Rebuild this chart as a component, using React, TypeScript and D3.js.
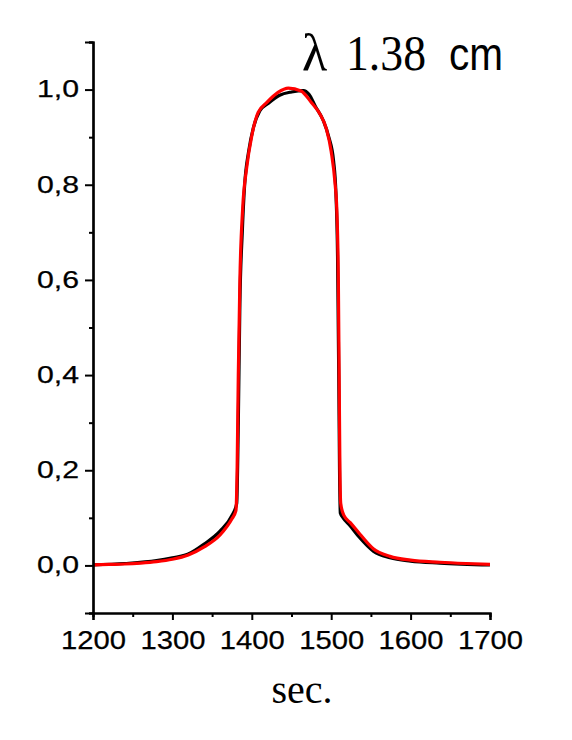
import { useEffect, useRef } from 'react';
import * as d3 from 'd3';

// time (sec.) and normalised signal
const blackT = [1200, 1240, 1280, 1300, 1320, 1340, 1360, 1375, 1381, 1383, 1385, 1388, 1391, 1396, 1402, 1410, 1420, 1435, 1450, 1465, 1472, 1480, 1490, 1497, 1503, 1506, 1508, 1509.5, 1510.5, 1511.5, 1515, 1524, 1536, 1553, 1574, 1600, 1637, 1700];
const blackV = [0.001, 0.004, 0.01, 0.016, 0.024, 0.045, 0.072, 0.105, 0.13, 0.3, 0.55, 0.7, 0.8, 0.87, 0.92, 0.955, 0.97, 0.988, 0.995, 0.998, 0.99, 0.965, 0.935, 0.9, 0.85, 0.78, 0.65, 0.4, 0.2, 0.11, 0.1, 0.083, 0.058, 0.03, 0.016, 0.009, 0.005, 0.001];

const redT = [1200, 1220, 1240, 1260, 1280, 1300, 1320, 1340, 1360, 1375, 1380, 1381.5, 1383, 1385, 1388.5, 1393.5, 1400, 1408, 1419, 1433, 1446, 1462, 1475, 1486, 1494, 1500, 1505, 1507, 1509, 1510, 1511, 1512, 1516, 1524, 1536, 1553, 1574, 1600, 1637, 1670, 1700];
const redV = [0.001, 0.002, 0.003, 0.005, 0.008, 0.013, 0.022, 0.039, 0.064, 0.098, 0.115, 0.2, 0.4, 0.6, 0.75, 0.835, 0.903, 0.952, 0.973, 0.994, 1.003, 0.997, 0.973, 0.948, 0.917, 0.87, 0.8, 0.75, 0.6, 0.4, 0.2, 0.13, 0.105, 0.09, 0.066, 0.035, 0.019, 0.011, 0.0067, 0.004, 0.002];

const xMajor = [1200, 1300, 1400, 1500, 1600, 1700];
const xMinor = [1250, 1350, 1450, 1550, 1650];
const yMajor = [0, 0.2, 0.4, 0.6, 0.8, 1.0];
const yMinor = [-0.1, 0.1, 0.3, 0.5, 0.7, 0.9, 1.1];

const W = 572;
const H = 740;

export default function App() {
  const svgRef = useRef<SVGSVGElement>(null);

  useEffect(() => {
    if (!svgRef.current) return;
    const svg = d3.select(svgRef.current);
    svg.selectAll('*').remove();

    const left = 93;
    const right = 490;
    const top = 42;
    const bottom = 613;

    const x = d3.scaleLinear().domain([1200, 1700]).range([left, right]);
    const y = d3.scaleLinear().domain([-0.1, 1.1]).range([bottom, top]);

    const line = d3
      .line<[number, number]>()
      .x((d) => x(d[0]))
      .y((d) => y(d[1]))
      .curve(d3.curveMonotoneX);

    const black = blackT.map((t, i) => [t, blackV[i]] as [number, number]);
    const red = redT.map((t, i) => [t, redV[i]] as [number, number]);

    svg
      .append('path')
      .attr('d', line(black))
      .attr('fill', 'none')
      .attr('stroke', '#000')
      .attr('stroke-width', 3.2);

    svg
      .append('path')
      .attr('d', line(red))
      .attr('fill', 'none')
      .attr('stroke', '#ff0000')
      .attr('stroke-width', 3.2);

    // axes
    const fmt = (d: d3.NumberValue) => d3.format('.1f')(+d).replace('.', ',');

    const yAxis = svg
      .append('g')
      .attr('transform', `translate(${left},0)`)
      .call(d3.axisLeft(y).tickValues(yMajor).tickSize(8).tickPadding(6).tickFormat(fmt));
    svg
      .append('g')
      .attr('transform', `translate(${left},0)`)
      .call(d3.axisLeft(y).tickValues(yMinor).tickSize(4).tickFormat(() => ''));

    const xAxis = svg
      .append('g')
      .attr('transform', `translate(0,${bottom})`)
      .call(d3.axisBottom(x).tickValues(xMajor).tickSize(7).tickPadding(11).tickFormat(d3.format('d')));
    svg
      .append('g')
      .attr('transform', `translate(0,${bottom})`)
      .call(d3.axisBottom(x).tickValues(xMinor).tickSize(4).tickFormat(() => ''));

    svg.selectAll('.domain').attr('stroke-width', 2.2);
    svg.selectAll('.tick line').attr('stroke-width', 2);

    yAxis
      .selectAll('text')
      .attr('textLength', 42)
      .attr('lengthAdjust', 'spacingAndGlyphs')
      .style('font-family', '"Liberation Sans", Arial, sans-serif')
      .style('font-size', '23px')
      .style('stroke', '#000')
      .style('stroke-width', '0.25px')
      .attr('fill', '#000');
    xAxis
      .selectAll('text')
      .attr('textLength', 65)
      .attr('lengthAdjust', 'spacingAndGlyphs')
      .style('font-family', '"Liberation Sans", Arial, sans-serif')
      .style('font-size', '26px')
      .style('stroke', '#000')
      .style('stroke-width', '0.25px')
      .attr('fill', '#000');

    // titles
    svg
      .append('text')
      .attr('x', 302)
      .attr('y', 70)
      .style('font-family', '"Liberation Serif", serif')
      .style('font-size', '52px')
      .text('λ');
    svg
      .append('text')
      .attr('x', 346)
      .attr('y', 70)
      .attr('textLength', 80)
      .attr('lengthAdjust', 'spacingAndGlyphs')
      .style('font-family', '"Liberation Serif", serif')
      .style('font-size', '50px')
      .text('1.38');
    svg
      .append('text')
      .attr('x', 449)
      .attr('y', 70)
      .attr('textLength', 54)
      .attr('lengthAdjust', 'spacingAndGlyphs')
      .style('font-family', '"Liberation Sans", sans-serif')
      .style('font-size', '46px')
      .text('cm');
    svg
      .append('text')
      .attr('x', 302)
      .attr('y', 703)
      .attr('text-anchor', 'middle')
      .style('font-family', '"Liberation Serif", serif')
      .style('font-size', '40px')
      .text('sec.');
  }, []);

  return (
    <svg
      ref={svgRef}
      width={W}
      height={H}
      style={{ position: 'absolute', left: 0, top: 0, background: '#fff' }}
    />
  );
}
